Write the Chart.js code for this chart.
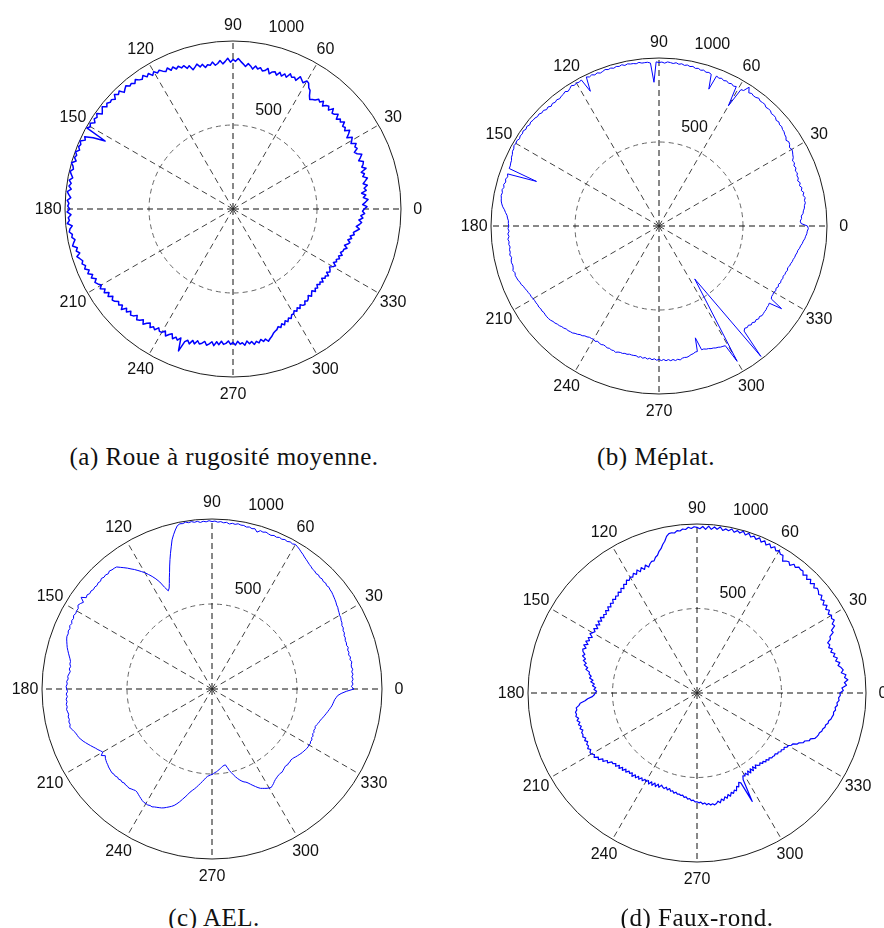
<!DOCTYPE html>
<html>
<head>
<meta charset="utf-8">
<script src="https://cdn.jsdelivr.net/npm/chart.js@4/dist/chart.umd.min.js"></script>
<style>
  html, body { margin: 0; padding: 0; background: #fff; }
  #page { position: relative; width: 884px; height: 928px; overflow: hidden; background: #fff; }
  #page canvas { position: absolute; }
  .cap {
    position: absolute; white-space: nowrap; transform: translateX(-50%);
    font-family: "Liberation Serif", "Times New Roman", serif; font-size: 25px;
    line-height: 25px; letter-spacing: 0.5px; color: #111;
  }
</style>
</head>
<body>
<div id="page">
  <canvas id="polarA" width="424" height="424" style="left:21px;top:-3px"></canvas>
  <canvas id="polarB" width="424" height="424" style="left:447px;top:14px"></canvas>
  <canvas id="polarC" width="428" height="428" style="left:-2px;top:475px"></canvas>
  <canvas id="polarD" width="426" height="426" style="left:484px;top:480px"></canvas>
  <div class="cap" style="left:224px;top:444px">(a) Roue à rugosité moyenne.</div>
  <div class="cap" style="left:656px;top:444px">(b) Méplat.</div>
  <div class="cap" style="left:214px;top:905px">(c) AEL.</div>
  <div class="cap" style="left:697px;top:905px">(d) Faux-rond.</div>
</div>
<script>
// Angular sampling: one radius per degree, 0..359 (counter-clockwise, 0 = east)
const ANGLES = Array.from({ length: 360 }, (_, i) => i);

// Angle tick labels and radial tick values
const ANGLE_TICKS = [0, 30, 60, 90, 120, 150, 180, 210, 240, 270, 300, 330];
const RADIAL_TICKS = [500, 1000];

// (a) Roue à rugosité moyenne
const radiusRough = [
  781, 798, 772, 790, 806, 779, 795, 771, 801, 790,
  812, 789, 805, 821, 796, 810, 794, 828, 806, 819,
  826, 801, 818, 833, 809, 797, 822, 814, 830, 803,
  816, 828, 799, 820, 838, 811, 826, 817, 842, 822,
  834, 815, 842, 826, 820, 845, 818, 836, 829, 812,
  838, 820, 829, 812, 805, 796, 814, 842, 851, 874,
  880, 859, 871, 884, 852, 866, 858, 874, 846, 861,
  842, 860, 838, 855, 849, 833, 862, 846, 840, 857,
  846, 862, 841, 858, 870, 852, 866, 880, 896, 879,
  890, 874, 898, 880, 866, 887, 871, 862, 883, 866,
  872, 858, 880, 868, 889, 874, 862, 892, 880, 902,
  894, 910, 899, 918, 904, 926, 910, 921, 936, 926,
  944, 928, 951, 938, 959, 942, 950, 966, 948, 962,
  955, 972, 961, 949, 976, 964, 981, 958, 973, 968,
  980, 966, 988, 974, 962, 990, 976, 985, 969, 992,
  980, 995, 862, 934, 982, 970, 996, 984, 991, 978,
  997, 984, 992, 976, 1000, 986, 979, 995, 983, 972,
  990, 975, 986, 970, 992, 981, 968, 988, 977, 984,
  972, 988, 965, 982, 976, 990, 962, 978, 984, 968,
  974, 958, 970, 980, 955, 966, 949, 972, 958, 946,
  956, 940, 952, 930, 946, 922, 938, 914, 931, 920,
  905, 922, 898, 914, 890, 908, 884, 900, 893, 876,
  888, 872, 894, 866, 882, 860, 878, 870, 852, 874,
  864, 848, 870, 852, 838, 861, 846, 857, 834, 850,
  848, 830, 856, 838, 826, 852, 835, 848, 828, 905,
  840, 826, 844, 818, 835, 812, 828, 820, 806, 826,
  815, 800, 821, 796, 812, 790, 808, 801, 786, 806,
  794, 810, 788, 805, 798, 814, 790, 808, 796, 816,
  800, 812, 794, 809, 798, 815, 802, 792, 778, 770,
  764, 750, 761, 742, 755, 734, 746, 728, 738, 720,
  722, 706, 718, 701, 714, 696, 709, 712, 694, 704,
  697, 682, 699, 686, 676, 694, 680, 689, 672, 686,
  676, 690, 670, 686, 679, 694, 672, 688, 681, 670,
  686, 698, 677, 692, 684, 700, 688, 706, 690, 701,
  702, 718, 698, 714, 724, 708, 728, 716, 738, 730,
  746, 762, 741, 758, 770, 752, 775, 762, 784, 771
];

// (b) Méplat  (null = no sample, the trace is joined across)
const radiusFlat = [
  884, 846, 841, 850, 849, 861, 864, 872, 874, 882,
  879, 887, 876, 885, 873, 881, 870, 879, 868, 877,
  874, 882, 875, 886, 879, 890, 884, 897, 902, 909,
  913, 906, 917, 921, 912, 923, 925, 932, 933, 940,
  937, 945, 939, 948, 949, 946, 955, 954, 951, 960,
  959, 957, 965, 958, 957, 963, 956, 985, 951, 947,
  826, 949, 943, 951, 945, 953, 947, 955, 949, 957,
  867, 955, 961, 957, 965, 960, 967, 963, 971, 967,
  973, 968, 975, 970, 977, 971, 975, 978, 970, 976,
  973, 977, 856, 971, 977, 976, 975, 981, 975, 979,
  979, 983, 977, 985, 979, 983, 977, 983, 979, 985,
  979, 975, 983, 977, 985, 979, 987, 900, 985, 979,
  983, 977, 985, 975, 967, 976, 969, 967, 961, 967,
  961, 967, 959, 969, 963, 973, 969, 977, 973, 979,
  979, 983, 977, 985, 979, 987, 981, 985, 979, 987,
  983, 987, 979, 979, 971, 969, 961, 959, 955, 955,
  776, 953, 947, 955, 949, 957, 951, 959, 953, 957,
  953, 951, 945, 937, 925, 917, 907, 903, 897, 897,
  894, 899, 893, 901, 895, 903, 897, 901, 895, 901,
  899, 905, 897, 903, 905, 901, 903, 909, 901, 905,
  902, 899, 893, 891, 883, 881, 875, 873, 869, 869,
  865, 863, 863, 861, 863, 859, 861, 857, 859, 859,
  858, 855, 849, 847, 841, 839, 833, 831, 825, 825,
  821, 819, 811, 807, 799, 797, 789, 787, 781, 781,
  779, 785, 777, 783, 785, 781, 783, 789, 785, 791,
  789, 795, 789, 787, 789, 785, 787, 783, 785, 785,
  784, 791, 785, 793, 787, 795, 789, 797, 791, 799,
  794, 801, 795, 803, 797, 805, 799, 807, 801, 807,
  799, 797, 799, 795, 789, 787, 781, 781, 700, 779,
  779, 785, 787, 793, 795, 801, 803, 809, 811, 815,
  930, null, null, null, 380, null, null, null, 985, 805,
  794, 801, 795, 805, 799, 809, 803, 811, 805, 813,
  811, 809, 809, 805, 805, 801, 880, 797, 791, 791,
  789, 795, 789, 797, 791, 799, 795, 801, 797, 803,
  803, 809, 805, 813, 815, 821, 823, 829, 831, 837,
  839, 847, 851, 859, 863, 871, 875, 881, 883, 889
];

// (c) AEL
const radiusAEL = [
  835, 820, 830, 824, 832, 826, 834, 828, 836, 830,
  832, 838, 830, 836, 828, 834, 830, 838, 832, 836,
  834, 840, 838, 846, 844, 852, 850, 858, 860, 866,
  867, 872, 876, 882, 884, 890, 894, 898, 902, 906,
  907, 912, 908, 914, 910, 916, 912, 918, 914, 920,
  920, 926, 930, 936, 942, 948, 956, 962, 970, 976,
  982, 976, 980, 974, 978, 972, 976, 970, 974, 968,
  971, 976, 970, 974, 960, 976, 972, 978, 974, 980,
  979, 984, 978, 982, 976, 984, 980, 986, 982, 988,
  985, 990, 984, 988, 982, 990, 986, 992, 988, 994,
  988, 990, 982, 960, 935, 908, 870, 835, 800, 765,
  730, 700, 670, 645, 632, 660, 700, 727, 750, 770,
  790, 806, 822, 838, 852, 868, 882, 896, 911, 914,
  915, 920, 912, 918, 914, 920, 912, 916, 910, 914,
  910, 916, 912, 920, 914, 940, 912, 923, 930, 918,
  920, 916, 922, 914, 918, 910, 916, 908, 912, 906,
  908, 904, 898, 892, 886, 878, 870, 862, 854, 848,
  849, 842, 848, 840, 846, 852, 848, 856, 852, 858,
  855, 850, 858, 852, 860, 856, 862, 858, 864, 860,
  856, 862, 858, 864, 860, 866, 858, 850, 842, 838,
  834, 826, 818, 808, 798, 788, 778, 768, 760, 750,
  742, 760, 740, 748, 752, 756, 758, 762, 764, 766,
  768, 764, 766, 760, 764, 758, 762, 756, 760, 758,
  761, 756, 752, 748, 750, 756, 762, 768, 774, 778,
  778, 780, 776, 778, 772, 768, 764, 760, 754, 746,
  738, 730, 720, 706, 690, 672, 655, 638, 620, 608,
  597, 585, 572, 560, 548, 536, 524, 515, 510, 506,
  503, 498, 492, 488, 482, 476, 470, 464, 458, 455,
  453, 470, 490, 505, 520, 535, 548, 560, 570, 578,
  583, 592, 604, 616, 628, 640, 650, 656, 662, 668,
  672, 676, 670, 664, 656, 650, 646, 642, 640, 638,
  640, 636, 632, 628, 626, 630, 626, 628, 624, 626,
  629, 634, 638, 642, 646, 650, 652, 656, 658, 660,
  658, 662, 656, 660, 652, 656, 648, 652, 646, 650,
  646, 650, 656, 660, 664, 670, 676, 682, 688, 694,
  700, 706, 712, 716, 720, 724, 732, 740, 760, 790
];

// (d) Faux-rond
const radiusOutOfRound = [
  846, 866, 858, 886, 874, 896, 878, 888, 862, 876,
  866, 850, 864, 842, 856, 836, 849, 828, 842, 824,
  836, 828, 852, 854, 882, 878, 906, 898, 920, 910,
  919, 906, 924, 908, 928, 910, 930, 918, 938, 926,
  938, 944, 930, 950, 932, 952, 934, 954, 938, 956,
  953, 958, 944, 954, 934, 948, 942, 930, 960, 958,
  973, 962, 980, 964, 982, 966, 986, 970, 990, 974,
  988, 976, 994, 978, 996, 980, 990, 976, 992, 978,
  986, 974, 992, 976, 988, 972, 990, 970, 986, 972,
  980, 984, 974, 982, 970, 974, 964, 968, 956, 960,
  958, 944, 918, 902, 880, 868, 848, 840, 822, 824,
  814, 798, 816, 794, 812, 792, 810, 788, 802, 784,
  792, 778, 788, 766, 776, 754, 766, 746, 758, 740,
  749, 734, 746, 726, 738, 720, 734, 714, 728, 710,
  721, 708, 726, 706, 724, 702, 722, 700, 720, 704,
  714, 724, 702, 722, 708, 726, 706, 728, 708, 724,
  718, 702, 712, 690, 700, 678, 688, 664, 672, 648,
  649, 634, 642, 620, 632, 610, 620, 600, 610, 594,
  602, 608, 620, 648, 664, 694, 702, 720, 718, 728,
  724, 730, 716, 728, 714, 726, 712, 724, 710, 722,
  718, 724, 710, 722, 708, 720, 714, 726, 712, 724,
  722, 708, 718, 696, 704, 680, 688, 664, 672, 648,
  650, 636, 648, 628, 642, 622, 636, 616, 630, 612,
  621, 608, 626, 606, 620, 602, 616, 598, 612, 596,
  605, 592, 610, 590, 608, 588, 606, 586, 602, 584,
  593, 598, 586, 600, 588, 602, 596, 608, 600, 610,
  607, 614, 610, 622, 618, 630, 626, 638, 634, 644,
  644, 650, 646, 658, 652, 664, 658, 668, 662, 670,
  664, 652, 664, 644, 656, 636, 648, 628, 642, 622,
  632, 616, 624, 600, 608, 584, 592, 720, 582, 560,
  567, 554, 572, 550, 570, 548, 568, 546, 566, 548,
  559, 566, 556, 570, 562, 576, 568, 582, 574, 586,
  585, 590, 586, 598, 594, 606, 602, 614, 608, 622,
  622, 638, 642, 666, 672, 694, 698, 722, 724, 748,
  755, 760, 762, 772, 774, 784, 784, 796, 796, 808,
  812, 818, 816, 826, 822, 834, 830, 842, 838, 848
];

const R_MAX = 1000;
const LABEL_FONT = '16px "Liberation Sans", Arial, sans-serif';

// The radar scale runs clockwise from its start angle; polar plots here run
// counter-clockwise from east, so index k on the scale is angle (360 - k) mod 360.
function scaleIndex(angleDeg) {
  const n = ANGLES.length;
  return ((n - angleDeg * n / 360) % n + n) % n;
}

// Angle labels just outside the rim, radial tick labels near the 70-75° ray.
const polarTickText = {
  id: 'polarTickText',
  afterDraw(chart) {
    const s = chart.scales.r;
    const ctx = chart.ctx;
    ctx.save();
    ctx.font = LABEL_FONT;
    ctx.fillStyle = '#111';
    ctx.textAlign = 'center';
    ctx.textBaseline = 'middle';
    const rim = s.getDistanceFromCenterForValue(R_MAX * 1.1);
    ANGLE_TICKS.forEach(a => {
      const p = s.getPointPosition(scaleIndex(a), rim);
      ctx.fillText(String(a), p.x, p.y + 1);
    });
    const place = { 500: [70.3, 628], 1000: [73.7, 1132] };
    RADIAL_TICKS.forEach(v => {
      const [ang, rv] = place[v];
      const p = s.getPointPosition(scaleIndex(ang), s.getDistanceFromCenterForValue(rv));
      ctx.fillText(String(v), p.x, p.y + 1);
    });
    ctx.restore();
  }
};

function drawPolar(canvasId, radii, traceWidth) {
  const n = ANGLES.length;
  const order = ANGLES.map((_, k) => (n - k) % n);
  return new Chart(document.getElementById(canvasId), {
    type: 'radar',
    data: {
      labels: order.map(i => ANGLES[i]),
      datasets: [{
        data: order.map(i => radii[i]),
        borderColor: '#0000ff',
        borderWidth: traceWidth,
        borderJoinStyle: 'round',
        pointRadius: 0,
        pointHoverRadius: 0,
        fill: false,
        tension: 0,
        spanGaps: true
      }]
    },
    options: {
      responsive: false,
      animation: false,
      devicePixelRatio: 1,
      events: [],
      layout: { padding: 44 },
      plugins: { legend: { display: false }, tooltip: { enabled: false } },
      scales: {
        r: {
          min: 0,
          max: R_MAX,
          startAngle: 90,
          ticks: { display: false, stepSize: 500 },
          pointLabels: { display: false },
          grid: {
            circular: true,
            lineWidth: 1,
            color: c => (c.tick && c.tick.value === R_MAX) ? '#1c1c1c' : '#666',
            borderDash: c => (c.tick && c.tick.value === R_MAX) ? [] : [5, 4]
          },
          border: {
            dash: c => (c.tick && c.tick.value === R_MAX) ? [] : [5, 4]
          },
          angleLines: {
            display: true,
            color: c => (c.index % 90 === 0) ? '#111' : '#444',
            lineWidth: c => (c.index % 30 === 0) ? 1 : 0,
            borderDash: [6, 4]
          }
        }
      }
    },
    plugins: [polarTickText]
  });
}

drawPolar('polarA', radiusRough, 1.5);
drawPolar('polarB', radiusFlat, 1);
drawPolar('polarC', radiusAEL, 1);
drawPolar('polarD', radiusOutOfRound, 1.2);
</script>
</body>
</html>
